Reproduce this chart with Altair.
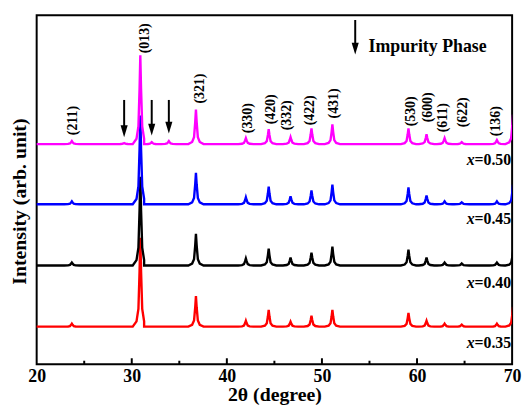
import altair as alt
import pandas as pd

# ---------------- data ----------------
two_theta_range = [20, 70]

series_names = ["x=0.35", "x=0.40", "x=0.45", "x=0.50"]
series_values = ["=0.35", "=0.40", "=0.45", "=0.50"]
series_colors = ["#FF0000", "#000000", "#0000FF", "#FF00FF"]
series_offsets = [38, 100, 162, 223]          # baseline of each stacked pattern (a.u.)

peak_positions = [23.7, 30.9, 36.75, 42.0, 44.4, 46.7, 48.9, 51.1, 59.1, 61.0, 62.9, 64.7, 68.4, 70.1]
heights_035 = [3, 90, 31, 6, 17, 5, 11, 17, 14, 6, 3, 2, 3, 20]
heights_040 = [3, 90, 32, 7, 17, 8, 13, 19, 16, 8, 3, 2, 3, 14]
heights_045 = [3, 90, 32, 7, 18, 8, 14, 20, 17, 9, 3, 2, 3, 20]
heights_050 = [3, 90, 35, 6, 15, 7, 16, 20, 16, 10, 6, 2, 4, 30]
series_heights = [heights_035, heights_040, heights_045, heights_050]

impurity_positions = [29.2, 32.1, 33.9]
impurity_heights = [[0, 0, 0], [0, 0, 0], [0, 0, 0], [1, 2, 3]]

# peak profile (offset in degrees, fraction of height)
profile_offsets = [-0.8, -0.4, -0.2, -0.08, 0.0, 0.08, 0.2, 0.4, 0.8]
profile_fractions = [0.0, 0.06, 0.2, 0.62, 1.0, 0.62, 0.2, 0.06, 0.0]

hkl_labels = ["(211)", "(013)", "(321)", "(330)", "(420)", "(332)", "(422)",
              "(431)", "(530)", "(600)", "(611)", "(622)", "(136)"]
hkl_x = [23.85, 31.35, 37.2, 42.2, 44.6, 46.3, 48.7, 51.3, 59.4, 61.2, 62.7, 64.8, 68.3]
hkl_y = [232, 315, 264, 234, 243, 237, 242, 249, 241, 245, 235, 240, 231]

series_label_x = [69.9, 69.9, 69.9, 69.9]
series_label_y = [21.7, 81.7, 146.7, 206.7]

arrow_x = [29.2, 32.1, 33.9, 53.5]
arrow_top = [267.7, 267.7, 267.7, 348.7]
arrow_tip = [230.0, 231.7, 233.7, 313.7]

legend_text = ["Impurity Phase"]
legend_x = [54.9]
legend_y = [321.7]

major_ticks = [30, 40, 50, 60]
minor_ticks = [25, 35, 45, 55, 65]
x_labels = [20, 30, 40, 50, 60, 70]

# ---------------- build tables ----------------
rows = []
for name, off, hs, imp in zip(series_names, series_offsets, series_heights, impurity_heights):
    peaks = list(zip(peak_positions, hs)) + list(zip(impurity_positions, imp))
    peaks.sort()
    rows.append({"series": name, "tt": two_theta_range[0] - 0.5, "I": off})
    for p, h in peaks:
        for o, f in zip(profile_offsets, profile_fractions):
            rows.append({"series": name, "tt": p + o, "I": off + h * f})
    rows.append({"series": name, "tt": two_theta_range[1] + 1.0, "I": off})
df = pd.DataFrame(rows).sort_values(["series", "tt"])

hkl_df = pd.DataFrame({"label": hkl_labels, "tt": hkl_x, "I": hkl_y})
ser_df = pd.DataFrame({"value": series_values, "tt": series_label_x, "I": series_label_y})
arr_df = pd.DataFrame({"tt": arrow_x, "top": arrow_top, "tip": arrow_tip})
arr_df["head"] = arr_df["tip"] + 6
leg_df = pd.DataFrame({"text": legend_text, "tt": legend_x, "I": legend_y})
tick_df = pd.DataFrame({"tt": major_ticks + minor_ticks,
                        "kind": ["major"] * len(major_ticks) + ["minor"] * len(minor_ticks)})

FONT = "Liberation Serif"
xs = alt.Scale(domain=two_theta_range, nice=False, zero=False)
ys = alt.Scale(domain=[0, 353.5], nice=False, zero=False)

x_axis = alt.Axis(values=x_labels, format="d", labelFont=FONT, labelFontSize=18,
                  labelFontWeight="bold", labelColor="black", labelPadding=4,
                  labelFlush=False, ticks=False, domain=False, grid=False,
                  title="2θ (degree)", titleFont=FONT, titleFontSize=20,
                  titleFontWeight="bold", titleColor="black", titleY=31,
                  titleBaseline="middle")
y_axis = alt.Axis(labels=False, ticks=False, domain=False, grid=False,
                  title="Intensity (arb. unit)", titleFont=FONT, titleFontSize=20,
                  titleFontWeight="bold", titleColor="black", titleX=-17, titleY=188,
                  titleAngle=270, titleBaseline="middle", titleAlign="center")

X = lambda f: alt.X(f, scale=xs, axis=x_axis)
Y = lambda f: alt.Y(f, scale=ys, axis=y_axis)

layers = []
for name, col in zip(series_names, series_colors):
    layers.append(
        alt.Chart(df[df["series"] == name]).mark_line(color=col, strokeWidth=2.4, clip=True).encode(
            x=X("tt:Q"), y=Y("I:Q"), order="tt:Q",
        )
    )

ticks_major = alt.Chart(tick_df[tick_df["kind"] == "major"]).mark_rule(color="black", strokeWidth=2).encode(
    x=X("tt:Q"), y=alt.value(353), y2=alt.value(347))
ticks_minor = alt.Chart(tick_df[tick_df["kind"] == "minor"]).mark_rule(color="black", strokeWidth=2).encode(
    x=X("tt:Q"), y=alt.value(353), y2=alt.value(349.5))

hkl = alt.Chart(hkl_df).mark_text(font=FONT, fontSize=14, fontWeight="bold", angle=270,
                                  align="left", baseline="middle", color="black").encode(
    x=X("tt:Q"), y=Y("I:Q"), text="label:N")

ser_val = alt.Chart(ser_df).mark_text(font=FONT, fontSize=16, fontWeight="bold",
                                      align="right", baseline="middle", color="black").encode(
    x=X("tt:Q"), y=Y("I:Q"), text="value:N")
ser_x = alt.Chart(ser_df).mark_text(font=FONT, fontSize=16, fontStyle="italic", fontWeight="bold",
                                    align="right", baseline="middle", color="black", dx=-37).encode(
    x=X("tt:Q"), y=Y("I:Q"), text=alt.value("x"))

arr_line = alt.Chart(arr_df).mark_rule(color="black", strokeWidth=2).encode(
    x=X("tt:Q"), y=Y("top:Q"), y2="head:Q")
arr_head = alt.Chart(arr_df).mark_point(shape="M-0.6,-1L0.6,-1L0,1Z", size=144, filled=True,
                                        color="black", opacity=1).encode(
    x=X("tt:Q"), y=Y("head:Q"))

leg = alt.Chart(leg_df).mark_text(font=FONT, fontSize=18, fontWeight="bold", align="left",
                                  baseline="middle", color="black").encode(
    x=X("tt:Q"), y=Y("I:Q"), text="text:N")

chart = alt.layer(*layers, ticks_major, ticks_minor, hkl, ser_val, ser_x, arr_line, arr_head, leg).properties(
    width=481, height=353,
    autosize=alt.AutoSizeParams(type="none"),
    padding={"left": 29, "top": 5, "right": 10, "bottom": 45},
    background="white",
).configure_view(stroke="black", strokeWidth=2)

chart.save("out.html", embed_options={"renderer": "svg", "actions": False})
